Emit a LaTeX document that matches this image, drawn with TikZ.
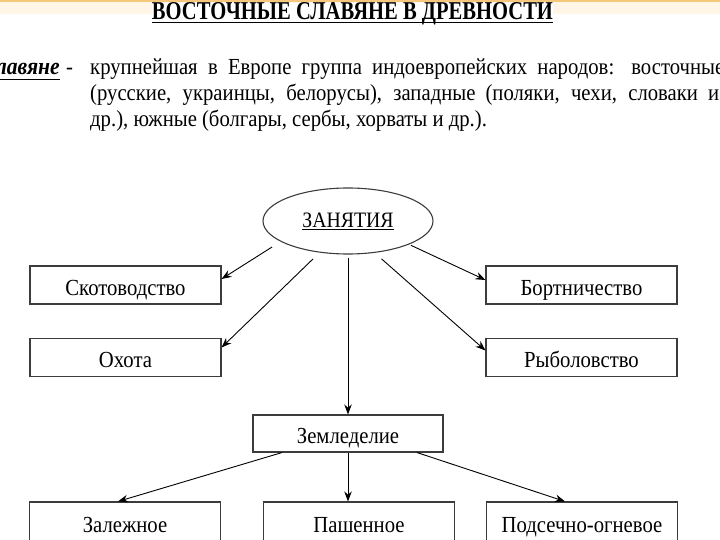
\documentclass[tikz,border=0pt]{standalone}
\usepackage{fontspec}
\setmainfont{Liberation Serif}[FakeStretch=0.9]
\usetikzlibrary{shapes.geometric,arrows.meta}
\definecolor{bandorange}{RGB}{245,200,125}
\definecolor{bandpale}{RGB}{255,246,232}
\definecolor{boxline}{RGB}{60,60,60}
\begin{document}
\begin{tikzpicture}[x=1pt,y=-1pt,
  box/.style={draw=boxline,line width=1.1pt,minimum width=191pt,minimum height=38pt,inner sep=0pt,text height=20pt,text depth=0pt,font=\fontsize{23}{25}\selectfont},
  arr/.style={-{Stealth[length=10pt,width=7.5pt]},line width=0.9pt},
  txt/.style={anchor=base west,inner sep=0pt,font=\fontsize{23}{25}\selectfont}]
  \useasboundingbox (0,0) rectangle (720,540);
  \fill[bandpale] (0,2) rectangle (720,14);
  \fill[bandorange] (0,0) rectangle (720,2.5);
  \node[anchor=base,inner sep=0pt,fill=white] (title) at (352.5,20) {\resizebox{401pt}{17pt}{\bfseries ВОСТОЧНЫЕ СЛАВЯНЕ В ДРЕВНОСТИ}};
  \draw[line width=1.5pt] ([yshift=-2.5pt]title.base west) -- ([yshift=-2.5pt]title.base east);
  \node[txt,anchor=base east,font=\fontsize{24}{25}\selectfont\bfseries\itshape] (slav) at (60,75) {Славяне};
  \draw[line width=1.6pt] ([yshift=-4.5pt]slav.base west) -- ([yshift=-4.5pt]slav.base east);
  \node[txt] (dash) at (66,75) {-};
  \node[txt] (line1) at (90,75) {\makebox[634pt][s]{крупнейшая в Европе группа индоевропейских народов: восточные}};
  \node[txt] (line2) at (90,101) {\makebox[629pt][s]{(русские, украинцы, белорусы), западные (поляки, чехи, словаки и}};
  \node[txt] (line3) at (90,127) {др.), южные (болгары, сербы, хорваты и др.).};
  \node[ellipse,draw=boxline,line width=1.1pt,minimum width=170pt,minimum height=66pt,inner sep=0pt,font=\fontsize{22}{25}\selectfont] (zan) at (348,221) {\underline{ЗАНЯТИЯ}};
  \node[box] (skot) at (125.5,285) {Скотоводство};
  \node[box] (ohota) at (125.5,357.5) {Охота};
  \node[box] (bort) at (581.5,285) {Бортничество};
  \node[box] (ryb) at (581.5,357.5) {Рыболовство};
  \node[box,minimum width=190pt,minimum height=37pt] (zeml) at (348,433.5) {Земледелие};
  \node[box,minimum height=40pt] (zal) at (125,522) {Залежное};
  \node[box,minimum height=40pt] (pash) at (359,522) {Пашенное};
  \node[box,minimum height=40pt] (pods) at (582,522) {Подсечно-огневое};
  \draw[arr,shorten <=10pt] (zan.197) -- ([yshift=6pt]skot.east);
  \draw[arr,shorten <=9pt] (zan.228) -- ([yshift=10pt]ohota.east);
  \draw[arr,shorten <=2pt] (zan.339) -- ([yshift=5pt]bort.west);
  \draw[arr,shorten <=9pt] (zan.310) -- ([yshift=7pt]ryb.west);
  \draw[arr,shorten <=3pt] (zan.south) -- (zeml.north);
  \draw[arr] ([xshift=-66pt]zeml.south) -- ([xshift=-7pt]zal.north);
  \draw[arr] (zeml.south) -- (zeml.south |- pash.north);
  \draw[arr] ([xshift=69pt]zeml.south) -- ([xshift=-17pt]pods.north);
\end{tikzpicture}
\end{document}
